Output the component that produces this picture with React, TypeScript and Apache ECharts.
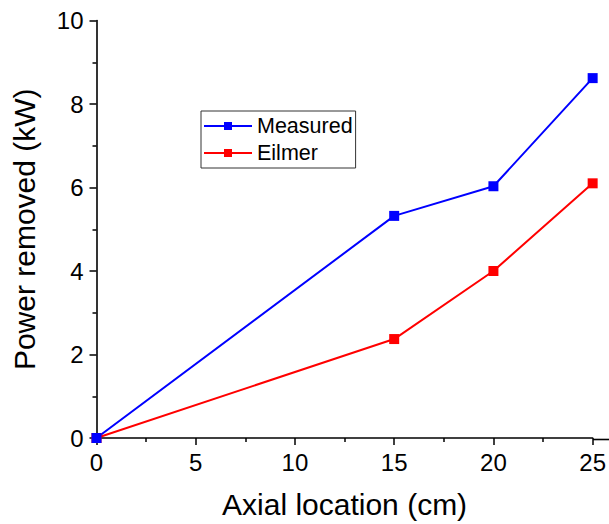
import React, { useEffect, useRef } from "react";
import * as echarts from "echarts";

const axialLocation = [0, 15, 20, 25];
const measured = [0, 5.32, 6.03, 8.62];
const eilmer = [0, 2.37, 4.0, 6.1];
const xTitle = "Axial location (cm)";
const yTitle = "Power removed (kW)";

const FONT = "'Liberation Sans', Arial, sans-serif";

export default function App() {
  const ref = useRef<HTMLDivElement>(null);
  useEffect(() => {
    if (!ref.current) return;
    const chart = echarts.init(ref.current, null, { renderer: "svg" });
    const pair = (ys: number[]) => axialLocation.map((x, i) => [x, ys[i]]);
    const axisCommon = {
      axisLine: { show: true, onZero: false, lineStyle: { color: "#000", width: 1.6 } },
      axisTick: { show: true, inside: false, length: 7, lineStyle: { color: "#000", width: 1.5 } },
      minorTick: { show: true, splitNumber: 2, length: 4, lineStyle: { color: "#000", width: 1.5 } },
      splitLine: { show: false },
      nameLocation: "middle" as const,
      nameTextStyle: { fontFamily: FONT, fontSize: 30, color: "#000" },
    };
    chart.setOption({
      animation: false,
      grid: { left: 96.5, top: 20.5, right: 16, bottom: 84.5, containLabel: false },
      xAxis: {
        type: "value",
        min: 0,
        max: 25,
        interval: 5,
        name: xTitle,
        nameGap: 51,
        ...axisCommon,
        axisLabel: { fontFamily: FONT, fontSize: 24, color: "#000", margin: 12 },
      },
      yAxis: {
        type: "value",
        min: 0,
        max: 10,
        interval: 2,
        name: yTitle,
        nameGap: 57,
        ...axisCommon,
        axisLabel: { fontFamily: FONT, fontSize: 24, color: "#000", margin: 13 },
      },
      legend: {
        orient: "vertical",
        left: 201,
        top: 111,
        data: ["Measured", "Eilmer"],
        itemWidth: 48,
        itemHeight: 10,
        itemGap: 5,
        padding: [4, 3, 4, 2],
        borderColor: "#333",
        borderWidth: 1,
        textStyle: { fontFamily: FONT, fontSize: 21.5, color: "#000" },
      },
      graphic: [
        {
          type: "line",
          shape: { x1: 593, y1: 439.5, x2: 609, y2: 439.5 },
          style: { stroke: "#000", lineWidth: 1.6 },
        },
      ],
      series: [
        {
          name: "Eilmer",
          type: "line",
          data: pair(eilmer),
          symbol: "rect",
          symbolSize: 10,
          clip: false,
          itemStyle: { color: "#ff0000" },
          lineStyle: { color: "#ff0000", width: 2 },
        },
        {
          name: "Measured",
          type: "line",
          data: pair(measured),
          symbol: "rect",
          symbolSize: 10,
          clip: false,
          itemStyle: { color: "#0000ff" },
          lineStyle: { color: "#0000ff", width: 2 },
        },
      ],
    });
    return () => chart.dispose();
  }, []);
  return <div ref={ref} style={{ width: 609, height: 524, position: "absolute", left: 0, top: 0 }} />;
}
